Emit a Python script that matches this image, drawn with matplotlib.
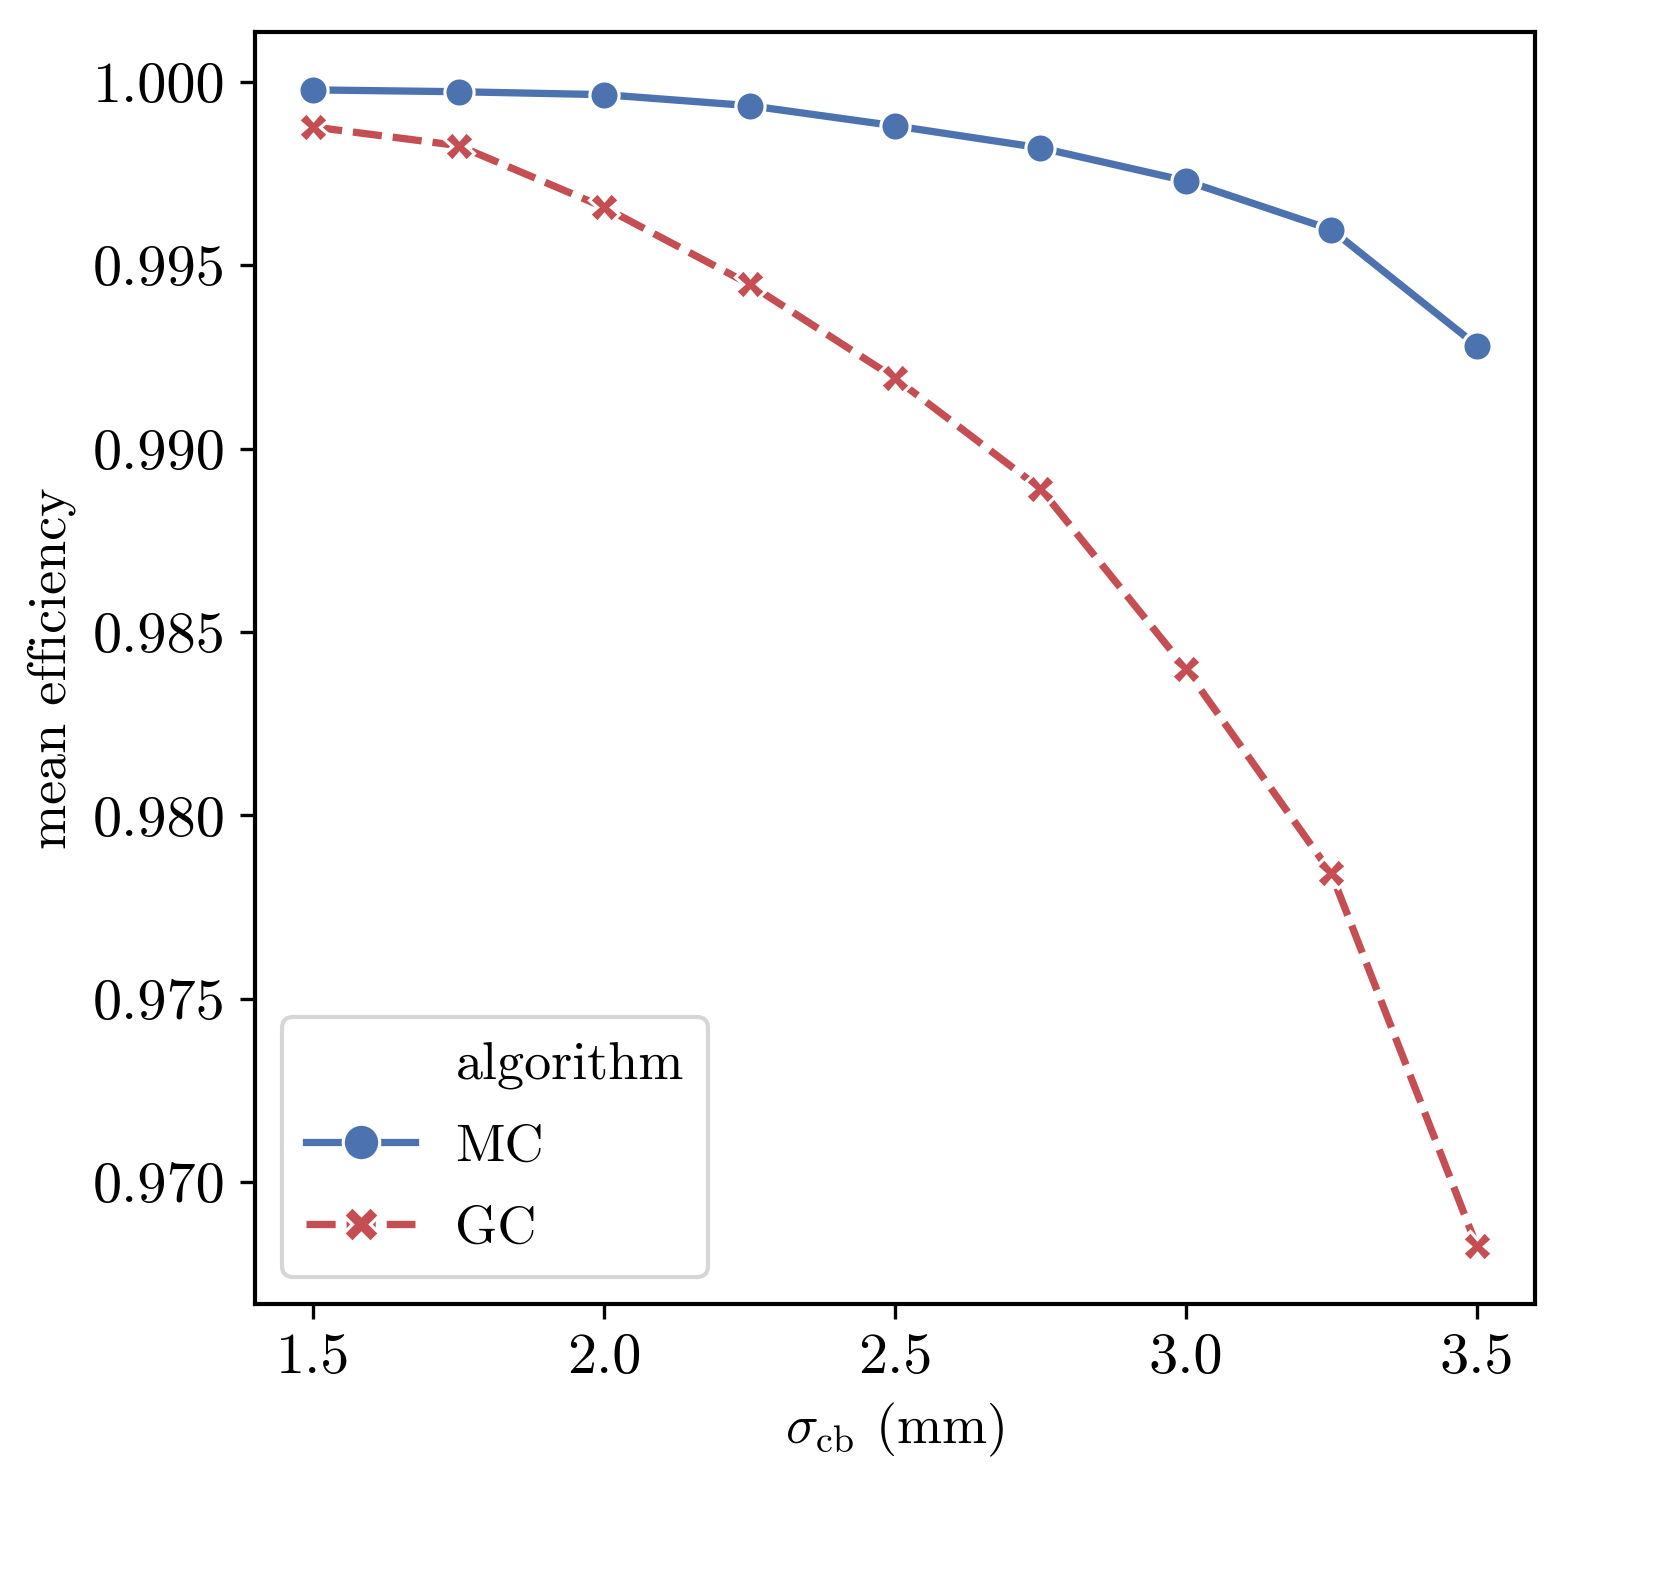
import matplotlib
matplotlib.use("Agg")
import matplotlib.pyplot as plt
from matplotlib.lines import Line2D

plt.rcParams['font.family'] = ['cmr10', 'DejaVu Serif']
plt.rcParams['mathtext.fontset'] = 'cm'
plt.rcParams['axes.formatter.use_mathtext'] = True
plt.rcParams['font.size'] = 14

sigma = [1.5, 1.75, 2.0, 2.25, 2.5, 2.75, 3.0, 3.25, 3.5]
mc = [0.99978, 0.99973, 0.99965, 0.99935, 0.99880, 0.99820, 0.99730, 0.99597, 0.99281]
gc = [0.99877, 0.99826, 0.99658, 0.99448, 0.99192, 0.98891, 0.98400, 0.97842, 0.96826]
labels = ["MC", "GC"]
yticks = [0.970, 0.975, 0.980, 0.985, 0.990, 0.995, 1.000]
xticks = [1.5, 2.0, 2.5, 3.0, 3.5]

blue = "#4C72B0"
red = "#C44E52"

fig = plt.figure(figsize=(1660/300, 1580/300), dpi=300)
ax = fig.add_axes([0.1536, 0.1747, 0.9247-0.1536, 0.9797-0.1747])

lw = 1.75
ax.plot(sigma, mc, color=blue, lw=lw, marker='o', markersize=7,
        markeredgecolor='white', markeredgewidth=0.75, label=labels[0])
ax.plot(sigma, gc, color=red, lw=lw, marker='X', markersize=7,
        markeredgecolor='white', markeredgewidth=0.75, dashes=(4, 1.5), label=labels[1])

ax.set_xticks(xticks)
ax.set_yticks(yticks)
ax.set_yticklabels([f"{v:.3f}" for v in yticks], fontsize=14)
ax.set_xticklabels([f"{v:.1f}" for v in xticks], fontsize=14)
ax.set_xlabel(r"$\sigma_{\rm cb}$ (mm)", fontsize=13)
ax.set_ylabel("mean efficiency", fontsize=13)
for s in ax.spines.values():
    s.set_linewidth(1.0)

handles, lbls = ax.get_legend_handles_labels()
dummy = Line2D([], [], linestyle='none', marker=None)
leg = ax.legend([dummy] + handles, ["algorithm"] + lbls, loc='lower left',
                fancybox=True, framealpha=0.8, edgecolor='#cccccc', fontsize=13,
                markerscale=1.25, handlelength=2.0, borderpad=0.45,
                labelspacing=0.62, handletextpad=0.75)

fig.savefig("out.png", dpi=300)
